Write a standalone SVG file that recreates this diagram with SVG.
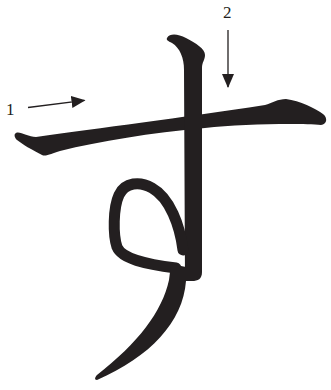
<svg xmlns="http://www.w3.org/2000/svg" width="331" height="390" viewBox="0 0 331 390">
<style>
.ink{fill:#231f20;stroke:none}
.loop{fill:none;stroke:#231f20;stroke-width:11;stroke-linecap:round}
.arr{stroke:#231f20;stroke-width:1.3;fill:none;marker-end:url(#ah)}
.lbl{font-family:"Liberation Serif",serif;font-size:17px;fill:#231f20}
</style>
<defs>
<marker id="ah" viewBox="0 0 14 12" refX="13" refY="6" markerWidth="14" markerHeight="12" markerUnits="userSpaceOnUse" orient="auto">
<path d="M0,0 L14,6 L0,12 Z" fill="#231f20"/>
</marker>
</defs>
<rect width="331" height="390" fill="#fff"/>
<g id="stroke1">
<path class="ink" d="M16,133 C20,131 28,137 36,137 C100,128 180,118 265,105 C272,103 278,99 286,99 C300,101 315,108 323,114 C328,118 327,124 321,125 C300,123 240,124 205,128 C150,133 100,141 60,151 C52,153 46,157 42,155 C32,150 22,144 17,140 C14,137 14,134 16,133 Z"/>
</g>
<g id="stroke2">
<path class="ink" d="M167,38 C170,33 178,34 186,38 C196,43 205,49 205,55 C205,60 202,62 202,68 L202,272 C202,279 198,281 192,281 L185,281 L184,70 C184,58 180,48 172,43 C168,41 166,40 167,38 Z"/>
<path class="loop" d="M183,250 C180,226 170,198 152,188 C140,181 125,182 119,195 C113,208 113,235 117,247 C122,259 145,264 176,268"/>
<path class="ink" d="M171,264 L186,267 L186,281 C183,322 150,357 97,380 C94,380 95,377 97,375 C138,343 162,312 169,280 Z"/>
</g>
<g id="labels">
<path class="arr" d="M28,107.5 L84.5,100.3"/>
<path class="arr" d="M228,30 L228,87"/>
<text class="lbl" x="6" y="115">1</text>
<text class="lbl" x="223" y="18">2</text>
</g>
</svg>
